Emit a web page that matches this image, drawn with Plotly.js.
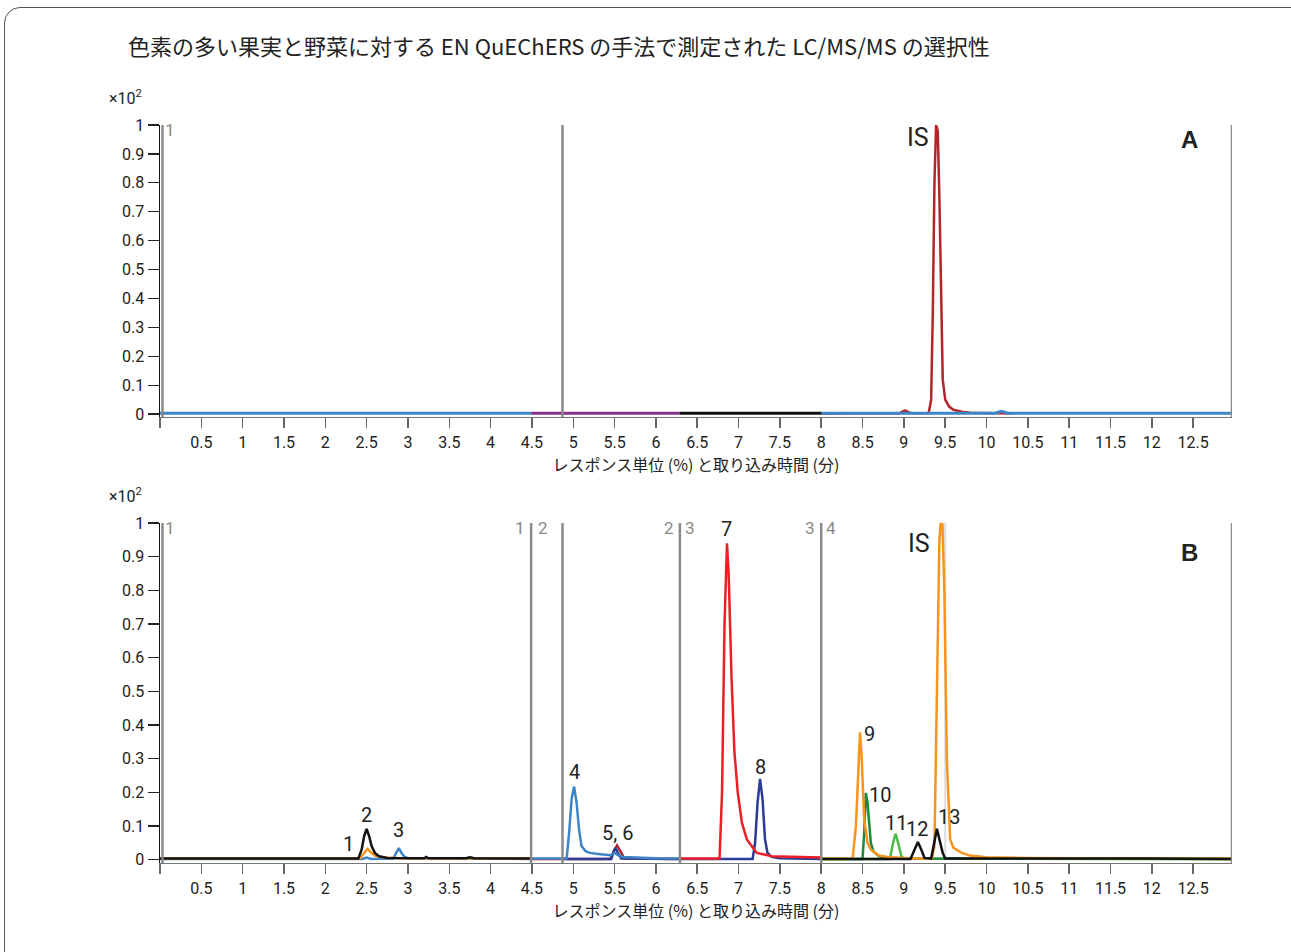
<!DOCTYPE html>
<html>
<head>
<meta charset="utf-8">
<script src="https://cdn.plot.ly/plotly-3.0.1.min.js"></script>
<style>
html,body{margin:0;padding:0;background:#fff;overflow:hidden;}
#frame{position:absolute;left:4px;top:7px;width:1320px;height:980px;border:1.5px solid #555;border-radius:16px;box-sizing:border-box;}
#chart{position:absolute;left:0;top:0;width:1291px;height:952px;}
</style>
</head>
<body>
<div id="frame"></div>
<div id="chart"></div>
<script>
// ---------- DATA ----------
const chartTitle = "色素の多い果実と野菜に対する EN QuEChERS の手法で測定された LC/MS/MS の選択性";
const xAxisTitle = "レスポンス単位 (%) と取り込み時間 (分)";
const xTickVals = [0,0.5,1,1.5,2,2.5,3,3.5,4,4.5,5,5.5,6,6.5,7,7.5,8,8.5,9,9.5,10,10.5,11,11.5,12,12.5];
const xTickText = [" ","0.5","1","1.5","2","2.5","3","3.5","4","4.5","5","5.5","6","6.5","7","7.5","8","8.5","9","9.5","10","10.5","11","11.5","12","12.5"];
const yTickVals = [0,0.1,0.2,0.3,0.4,0.5,0.6,0.7,0.8,0.9,1];
const yTickText = ["0","0.1","0.2","0.3","0.4","0.5","0.6","0.7","0.8","0.9","1"];
const xMax = 12.97;

// segment boundaries (gray vertical lines)
const segA = [0.03, 4.87, xMax];
const segB = [0.03, 4.49, 4.87, 6.29, 8.0, xMax];
const isLineB = 9.5;

// ---- Panel A (blank matrix) ----
const aBlueX = [0, 4.49, null, 8.0, 10.1, 10.18, 10.26, xMax];
const aBlueY = [0.003, 0.003, null, 0.003, 0.003, 0.01, 0.003, 0.003];
const aMagX = [4.49, 6.29];
const aMagY = [0.003, 0.003];
const aBlackX = [6.29, 8.0];
const aBlackY = [0.003, 0.003];
const aRedX = [8.0, 8.95, 8.99, 9.02, 9.06, 9.1, 9.3, 9.33, 9.35, 9.37, 9.39, 9.41, 9.43, 9.45, 9.47, 9.5, 9.55, 9.6, 9.7, 9.8, 10.0, 10.3];
const aRedY = [0.002, 0.003, 0.01, 0.012, 0.006, 0.003, 0.004, 0.05, 0.35, 0.8, 1.0, 0.98, 0.75, 0.35, 0.12, 0.05, 0.025, 0.015, 0.008, 0.005, 0.003, 0.002];

// ---- Panel B (spiked sample) ----
const bBlackX = [0, 2.40, 2.44, 2.47, 2.50, 2.53, 2.56, 2.60, 2.65, 2.75, 3.0, 3.2, 3.22, 3.25, 3.7, 3.75, 3.8, 3.9, 4.49, null,
                 8.0, 9.08, 9.13, 9.17, 9.21, 9.25, 9.33, 9.37, 9.40, 9.43, 9.47, 9.5, 10.8, 11.0, 11.05, 11.5, 11.55, 11.9, xMax];
const bBlackY = [0.003, 0.003, 0.03, 0.07, 0.091, 0.07, 0.04, 0.02, 0.01, 0.005, 0.004, 0.004, 0.008, 0.004, 0.004, 0.007, 0.004, 0.004, 0.003, null,
                 0.002, 0.002, 0.03, 0.052, 0.03, 0.005, 0.003, 0.05, 0.092, 0.06, 0.02, 0.003, 0.003, 0.005, 0.003, 0.003, 0.005, 0.003, 0.002];
const bOrangeX = [0, 2.42, 2.47, 2.51, 2.55, 2.6, 2.7, 2.9, 4.49, null,
                  8.0, 8.38, 8.42, 8.45, 8.47, 8.49, 8.52, 8.56, 8.6, 8.65, 8.7, 8.8, 8.9, 9.0, 9.1, 9.34, 9.37, 9.40, 9.43, 9.46, 9.49, 9.52, 9.56, 9.6, 9.7, 9.8, 10.0, 10.5, 11.0, xMax];
const bOrangeY = [0.003, 0.003, 0.02, 0.032, 0.022, 0.012, 0.006, 0.004, 0.003, null,
                  0.003, 0.003, 0.1, 0.3, 0.378, 0.3, 0.12, 0.05, 0.03, 0.02, 0.012, 0.008, 0.006, 0.004, 0.003, 0.003, 0.04, 0.5, 0.95, 1.05, 0.8, 0.3, 0.06, 0.035, 0.02, 0.012, 0.007, 0.005, 0.004, 0.003];
const bDkGreenX = [8.0, 8.5, 8.52, 8.54, 8.56, 8.58, 8.6, 8.63, 8.7, 8.8, 9.0, xMax];
const bDkGreenY = [0.002, 0.002, 0.08, 0.198, 0.17, 0.1, 0.05, 0.025, 0.01, 0.005, 0.003, 0.002];
const bLtGreenX = [8.0, 8.83, 8.87, 8.9, 8.93, 8.97, 9.0, xMax];
const bLtGreenY = [0.002, 0.002, 0.05, 0.077, 0.05, 0.01, 0.003, 0.002];
const bLtBlueX = [0, 2.45, 2.5, 2.55, 2.82, 2.86, 2.89, 2.92, 2.96, 3.0, 4.49, null,
                  4.49, 4.92, 4.95, 4.98, 5.01, 5.04, 5.07, 5.10, 5.15, 5.2, 5.3, 5.45, 5.5, 5.55, 5.6, 5.8, 6.0, 6.29];
const bLtBlueY = [0.002, 0.002, 0.006, 0.002, 0.003, 0.02, 0.034, 0.02, 0.008, 0.004, 0.002, null,
                  0.003, 0.003, 0.08, 0.18, 0.217, 0.17, 0.09, 0.04, 0.025, 0.02, 0.017, 0.013, 0.02, 0.012, 0.008, 0.005, 0.004, 0.003];
const bDkRedX = [4.49, 5.45, 5.49, 5.53, 5.57, 5.62, 6.29];
const bDkRedY = [0.002, 0.002, 0.025, 0.042, 0.025, 0.003, 0.002];
const bNavyX = [4.87, 5.46, 5.49, 5.51, 5.54, 5.58, 6.29, null,
                6.29, 7.17, 7.2, 7.23, 7.26, 7.29, 7.32, 7.35, 7.4, 7.5, 8.0];
const bNavyY = [0.002, 0.002, 0.025, 0.035, 0.02, 0.003, 0.002, null,
                0.002, 0.002, 0.05, 0.17, 0.24, 0.18, 0.06, 0.02, 0.008, 0.004, 0.002];
const bRedX = [6.29, 6.77, 6.80, 6.83, 6.86, 6.88, 6.915, 6.95, 6.99, 7.04, 7.1, 7.22, 7.4, 7.7, 8.0];
const bRedY = [0.003, 0.003, 0.2, 0.7, 0.94, 0.85, 0.54, 0.32, 0.2, 0.11, 0.06, 0.02, 0.01, 0.008, 0.006];

// peak labels (panel B)
const peakLabels = ["1","2","3","4","5, 6","7","8","9","10","11","12","13","IS"];
const peakLabelX = [2.28, 2.50, 2.89, 5.01, 5.54, 6.86, 7.26, 8.59, 8.71, 8.90, 9.16, 9.54, 9.18];
const peakLabelY = [0.045, 0.134, 0.089, 0.261, 0.08, 0.982, 0.276, 0.374, 0.193, 0.11, 0.092, 0.128, 0.938];

// segment number labels
const segLabelsA = ["1"];
const segLabelsAX = [0.12];
const segLabelsB = ["1","1","2","2","3","3","4"];
const segLabelsBX = [0.12, 4.35, 4.63, 6.16, 6.41, 7.87, 8.12];

// ---------- STYLE ----------
const C = {
  black:"#111111", orange:"#f7941d", dkgreen:"#1b8a3c", ltgreen:"#4dbb48",
  ltblue:"#3d85c6", dkred:"#b3252b", navy:"#2e3b94", red:"#ec1f27", magenta:"#8b2f8c", gray:"#8a8a8a"
};
const numFont = "Liberation Sans Narrow, Roboto, sans-serif";
const jpFont = "Noto Sans CJK JP, sans-serif";

function line(x, y, color, xa, ya, w){
  return {type:"scatter", mode:"lines", x:x, y:y, xaxis:xa, yaxis:ya,
          line:{color:color, width:w||2.5}, hoverinfo:"skip", showlegend:false, connectgaps:false};
}

const traces = [
  line(aRedX, aRedY, C.dkred, "x", "y", 2.5),
  line(aBlueX, aBlueY, C.ltblue, "x", "y", 3),
  line(aMagX, aMagY, C.magenta, "x", "y", 3),
  line(aBlackX, aBlackY, C.black, "x", "y", 3),

  line(bDkRedX, bDkRedY, C.dkred, "x2", "y2"),
  line(bNavyX, bNavyY, C.navy, "x2", "y2"),
  line(bLtBlueX, bLtBlueY, C.ltblue, "x2", "y2"),
  line(bRedX, bRedY, C.red, "x2", "y2"),
  line(bLtGreenX, bLtGreenY, C.ltgreen, "x2", "y2"),
  line(bDkGreenX, bDkGreenY, C.dkgreen, "x2", "y2"),
  line(bOrangeX, bOrangeY, C.orange, "x2", "y2"),
  line(bBlackX, bBlackY, C.black, "x2", "y2")
];

const shapes = [];
segA.forEach(v => shapes.push({type:"line", xref:"x", yref:"y", x0:v, x1:v, y0:-0.01, y1:1, line:{color:C.gray, width:2.5}, layer:"above"}));
segB.forEach(v => shapes.push({type:"line", xref:"x2", yref:"y2", x0:v, x1:v, y0:-0.01, y1:1, line:{color:C.gray, width:2.5}, layer:"above"}));
shapes.push({type:"line", xref:"x2", yref:"y2", x0:isLineB, x1:isLineB, y0:0, y1:1, line:{color:"#dcdcdc", width:2}, layer:"below"});

const annotations = [];
function ann(text, x, y, xref, yref, size, color, family){
  return {text:text, x:x, y:y, xref:xref, yref:yref, showarrow:false,
    xanchor:"center", yanchor:"middle", font:{family:family||numFont, size:size, color:color}};
}
peakLabels.forEach((t,i) => annotations.push(ann(t, peakLabelX[i], peakLabelY[i], "x2", "y2", t==="IS"?25:20, "#222")));
annotations.push(ann("IS", 9.17, 0.958, "x", "y", 25, "#222"));
annotations.push(ann("<b>A</b>", 12.46, 0.95, "x", "y", 24, "#222", "Liberation Sans, Arial, sans-serif"));
annotations.push(ann("<b>B</b>", 12.46, 0.911, "x2", "y2", 24, "#222", "Liberation Sans, Arial, sans-serif"));
segLabelsA.forEach((t,i) => annotations.push(ann(t, segLabelsAX[i], 0.983, "x", "y", 17, "#8a8a8a")));
segLabelsB.forEach((t,i) => annotations.push(ann(t, segLabelsBX[i], 0.985, "x2", "y2", 17, "#8a8a8a")));
annotations.push(ann("×10<sup>2</sup>", -0.0326, 0.898, "paper", "paper", 16, "#222"));
annotations.push(ann("×10<sup>2</sup>", -0.0326, 0.48, "paper", "paper", 16, "#222"));

function xaxis(anchor){
  return {anchor:anchor, range:[0, xMax], tickmode:"array", tickvals:xTickVals, ticktext:xTickText,
    showgrid:false, zeroline:false, showline:true, linecolor:"#777", linewidth:1.5,
    ticks:"outside", ticklen:10, tickwidth:1.5, tickcolor:"#666",
    tickfont:{family:numFont, size:16, color:"#222"},
    title:{text:xAxisTitle, font:{family:jpFont, size:16, color:"#222"}, standoff:8}};
}
function yaxis(domain, anchor){
  return {domain:domain, anchor:anchor, range:[-0.01, 1], tickmode:"array", tickvals:yTickVals, ticktext:yTickText,
    showgrid:false, zeroline:false, showline:true, linecolor:"#111", linewidth:1.5,
    ticks:"outside", ticklen:11, tickwidth:1.2, tickcolor:"#222",
    tickfont:{family:numFont, size:16, color:"#222"}};
}

const layout = {
  width:1291, height:952,
  margin:{l:160, r:59, t:0, b:0},
  paper_bgcolor:"rgba(0,0,0,0)", plot_bgcolor:"rgba(0,0,0,0)",
  title:{text:chartTitle, xref:"container", yref:"container", x:0.0991, xanchor:"left", y:0.9506, yanchor:"middle",
         font:{family:jpFont, size:22, color:"#222"}},
  xaxis: xaxis("y"),
  yaxis: yaxis([0.5620, 0.8687], "x"),
  xaxis2: xaxis("y2"),
  yaxis2: yaxis([0.0935, 0.4506], "x2"),
  shapes:shapes,
  annotations:annotations,
  showlegend:false
};

Plotly.newPlot("chart", traces, layout, {displayModeBar:false, staticPlot:true});
</script>
</body>
</html>
